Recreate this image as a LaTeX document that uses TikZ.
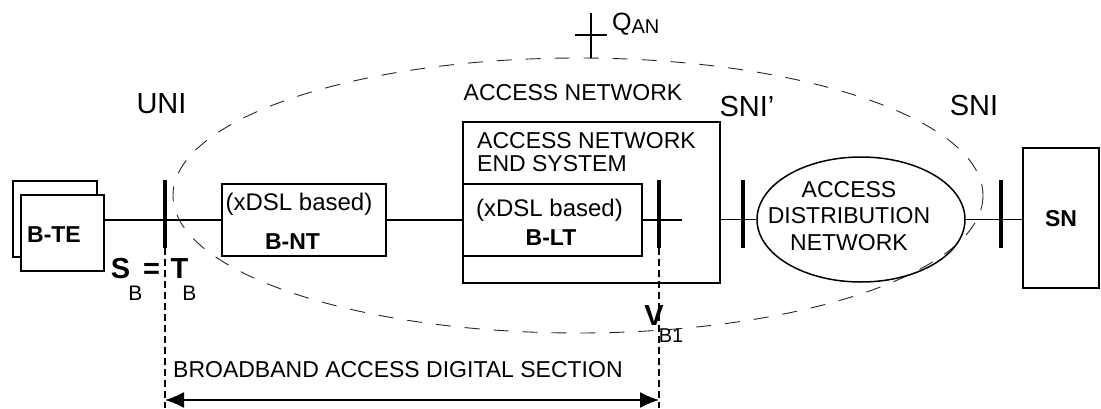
\documentclass[tikz,border=0pt]{standalone}
\usepackage{fontspec}
\setmainfont{Liberation Sans}
\usetikzlibrary{arrows.meta,shapes.geometric}
\newcommand{\fs}[1]{\fontsize{#1}{#1}\selectfont}
\newcommand{\subl}[2]{#1{\fs{20}\raisebox{-3pt}{#2}}}
\begin{document}
\begin{tikzpicture}[
      x=1pt, y=-1pt, %one unit = one pixel, y downwards
      box/.style={draw, line width=1.6pt, inner sep=0pt},
      refpt/.style={fill, inner sep=0pt, minimum width=4pt, minimum height=68pt},
      wire/.style={line width=1.5pt},
      refline/.style={line width=1.3pt, dash pattern=on 7pt off 4pt},
      cloud/.style={line width=0.9pt, dash pattern=on 15pt off 14pt, black!85},
      bothway/.style={line width=1.5pt, {Latex[length=19pt,width=16pt]}-{Latex[length=19pt,width=16pt]}},
      txt/.style={font=\fs{23}, inner sep=0pt},
      bld/.style={font=\fs{23}\bfseries, inner sep=0pt},
      ifc/.style={font=\fs{29}, inner sep=0pt},
      pnt/.style={font=\fs{29}\bfseries, inner sep=0pt},
      sub/.style={font=\fs{21}, inner sep=0pt}
    ]
    \useasboundingbox (0,0) rectangle (1101,408);
    % The access network cloud
    \draw[cloud] (578,195.5) ellipse [x radius=405, y radius=137.5];
    \coordinate (qan) at (591,35);
    \draw[wire] (qan) ++(-16,0) -- ++(32,0);
    \draw[wire] (qan) ++(0,-22) -- ++(0,45);
    \node[txt, font=\fs{25}, anchor=base west] (qlbl) at (612,30) {\subl{Q}{AN}};
    \node[txt, anchor=base] (anlbl) at (573,100) {ACCESS NETWORK};
    % Interface names
    \node[ifc, anchor=base] (uni) at (161.5,113) {UNI};
    \node[ifc, anchor=base] (snip) at (747,116) {SNI'};
    \node[ifc, anchor=base] (sni) at (974,115) {SNI};
    % Terminal equipment
    \node[box, fill=white, minimum width=84, minimum height=76] (bteb) at (55,219) {};
    \node[box, fill=white, minimum width=83, minimum height=76] (bte) at (62.5,233) {};
    \node[bld, anchor=base] (btelbl) at (54,242) {B-TE};
    % Network termination
    \node[box, minimum width=164, minimum height=72] (bnt) at (304,220) {};
    \node[txt, font=\fs{24}, anchor=base] (bntx) at (299,210) {(xDSL based)};
    \node[bld, anchor=base] (bntlbl) at (292.5,249) {B-NT};
    % Access network end system with line termination
    \node[box, minimum width=257, minimum height=161] (anes) at (591.5,202.5) {};
    \node[txt, anchor=north west, align=left] (aneslbl) at (477,132.5) {ACCESS NETWORK\\[-0.5pt]END SYSTEM};
    \node[box, minimum width=179, minimum height=72] (blt) at (552.5,220) {};
    \node[txt, font=\fs{24}, anchor=base] (bltx) at (549.5,216) {(xDSL based)};
    \node[bld, anchor=base] (bltlbl) at (551,245) {B-LT};
    \coordinate (vend) at (682,220);
    % Distribution network and service node
    \node[draw, ellipse, line width=1.5pt, inner sep=0pt, minimum width=208, minimum height=125] (adn) at (861,219.5) {};
    \node[txt, align=center] (adnlbl) at (849,216) {ACCESS\\[3.5pt]DISTRIBUTION\\[3.5pt]NETWORK};
    \node[box, minimum width=76, minimum height=140] (sn) at (1061,218) {};
    \node[bld, anchor=base] (snlbl) at (1061,226) {SN};
    % Wires
    \draw[wire] (bte.east |- bnt.west) -- (bnt.west);
    \draw[wire] (bnt.east) -- (bnt.east -| anes.west);
    \draw[wire] (blt.east) -- (vend);
    \draw[wire] (anes.east |- adn.west) -- (adn.west);
    \draw[wire] (adn.east) -- (adn.east -| sn.west);
    % Reference points
    \node[refpt] (tb) at (165,214) {};
    \node[refpt] (vb) at (659,214) {};
    \node[refpt] (snib) at (743,214) {};
    \node[refpt] (snb) at (1001,214) {};
    \draw[refline] (tb.south) -- ++(0,160);
    \draw[refline] (vb.south) -- ++(0,160);
    \node[pnt, anchor=base] (slbl) at (120.5,278) {S};
    \node[pnt, anchor=base] (eqlbl) at (151.5,278) {=};
    \node[pnt, anchor=base] (tlbl) at (179.5,278) {T};
    \node[sub, anchor=base] (sbsub) at (135.5,300) {B};
    \node[sub, anchor=base] (tbsub) at (189.5,300) {B};
    \node[pnt, anchor=base] (vlbl) at (654,325) {V};
    \node[font=\fs{20}, inner sep=0pt, anchor=base] (vbsub) at (671,342) {B1};
    % Digital section
    \node[txt, anchor=base west] (bads) at (173,377) {BROADBAND ACCESS DIGITAL SECTION};
    \draw[bothway] (tb.south |- 0,400) -- (vb.south |- 0,400);
\end{tikzpicture}
\end{document}
